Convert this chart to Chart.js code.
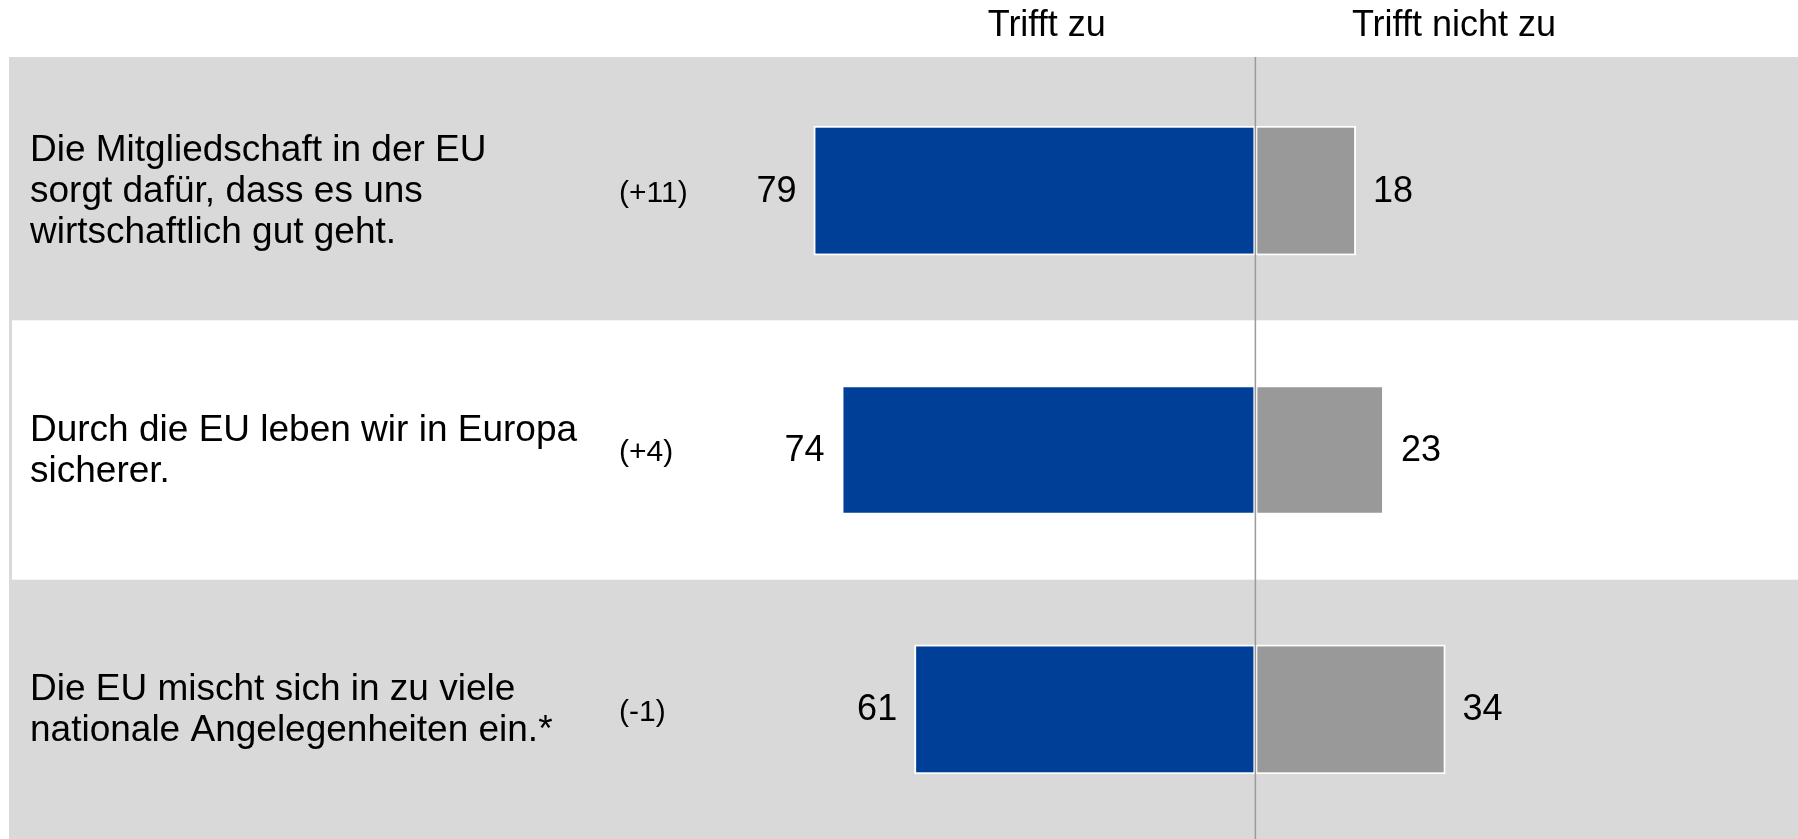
<!DOCTYPE html>
<html>
<head>
<meta charset="utf-8">
<script src="https://cdn.jsdelivr.net/npm/chart.js@4"></script>
<style>
  html, body { margin: 0; padding: 0; background: #fff; }
  #wrap { width: 1798px; height: 839px; position: relative; }
</style>
</head>
<body>
<div id="wrap"><canvas id="euChart"></canvas></div>
<script>
// Aussagen (Kategorien), mehrzeilig wie im Original
const categories = [
  ['Die Mitgliedschaft in der EU', 'sorgt dafür, dass es uns', 'wirtschaftlich gut geht.'],
  ['Durch die EU leben wir in Europa', 'sicherer.'],
  ['Die EU mischt sich in zu viele', 'nationale Angelegenheiten ein.*']
];
const trifftZu = [79, 74, 61];
const trifftNichtZu = [18, 23, 34];
const changes = ['(+11)', '(+4)', '(-1)'];
const seriesNames = ['Trifft zu', 'Trifft nicht zu'];

const FONT = '"Liberation Sans", Arial, sans-serif';
const BLUE = '#003f98';
const GREY = '#999999';
const BAND_TOP = 57;

// row backgrounds: grey / white / grey
const bandsPlugin = {
  id: 'bands',
  beforeDraw(chart) {
    const { ctx, chartArea, scales } = chart;
    const step = (chartArea.bottom - chartArea.top) / categories.length;
    ctx.save();
    ctx.fillStyle = '#d9d9d9';
    ctx.fillRect(9, BAND_TOP, chart.width - 9, chart.height - BAND_TOP);
    categories.forEach((c, i) => {
      if (i % 2 === 1) {
        const yc = scales.y.getPixelForValue(i);
        ctx.fillStyle = '#ffffff';
        ctx.fillRect(12, yc - step / 2, chart.width - 12, step);
      }
    });
    ctx.restore();
  }
};

const textPlugin = {
  id: 'texts',
  afterDatasetsDraw(chart) {
    const { ctx, chartArea, scales } = chart;
    ctx.save();

    // zero line
    const x0 = scales.x.getPixelForValue(0);
    ctx.strokeStyle = '#9a9a9a';
    ctx.lineWidth = 1.5;
    ctx.beginPath();
    ctx.moveTo(x0, BAND_TOP);
    ctx.lineTo(x0, chartArea.bottom);
    ctx.stroke();

    ctx.fillStyle = '#000';

    // column headers
    ctx.font = '36px ' + FONT;
    ctx.textAlign = 'center';
    ctx.textBaseline = 'alphabetic';
    ctx.fillText(seriesNames[0], scales.x.getPixelForValue(-37.3), 36);
    ctx.fillText(seriesNames[1], scales.x.getPixelForValue(35.5), 36);
    ctx.textBaseline = 'middle';

    categories.forEach((lines, i) => {
      const yc = scales.y.getPixelForValue(i);
      // statement text
      ctx.font = '37px ' + FONT;
      ctx.textAlign = 'left';
      const lh = 41.3;
      lines.forEach((ln, k) => {
        ctx.fillText(ln, 30, yc + (k - (lines.length - 1) / 2) * lh + 1);
      });
      // change vs. previous
      ctx.font = '30px ' + FONT;
      ctx.fillText(changes[i], 619, yc + 3);
    });

    // value labels
    ctx.font = '36px ' + FONT;
    chart.getDatasetMeta(0).data.forEach((bar, i) => {
      ctx.textAlign = 'right';
      ctx.fillText(String(trifftZu[i]), bar.x - 17, bar.y + 1);
    });
    chart.getDatasetMeta(1).data.forEach((bar, i) => {
      ctx.textAlign = 'left';
      ctx.fillText(String(trifftNichtZu[i]), bar.x + 17, bar.y + 1);
    });
    ctx.restore();
  }
};

new Chart(document.getElementById('euChart').getContext('2d'), {
  type: 'bar',
  data: {
    labels: categories,
    datasets: [
      {
        label: seriesNames[0],
        data: trifftZu.map(v => -v),
        backgroundColor: BLUE,
        borderColor: '#ffffff',
        borderWidth: 2,
        borderSkipped: false
      },
      {
        label: seriesNames[1],
        data: trifftNichtZu,
        backgroundColor: GREY,
        borderColor: '#ffffff',
        borderWidth: 2,
        borderSkipped: false
      }
    ]
  },
  options: {
    indexAxis: 'y',
    responsive: true,
    maintainAspectRatio: false,
    animation: false,
    layout: { padding: { left: 696, right: 0, top: 61, bottom: 0 } },
    datasets: { bar: { categoryPercentage: 1, barPercentage: 0.5 } },
    scales: {
      x: { stacked: true, min: -100, max: 97, display: false },
      y: { stacked: true, display: false }
    },
    plugins: {
      legend: { display: false },
      tooltip: { enabled: false }
    }
  },
  plugins: [bandsPlugin, textPlugin]
});
</script>
</body>
</html>
